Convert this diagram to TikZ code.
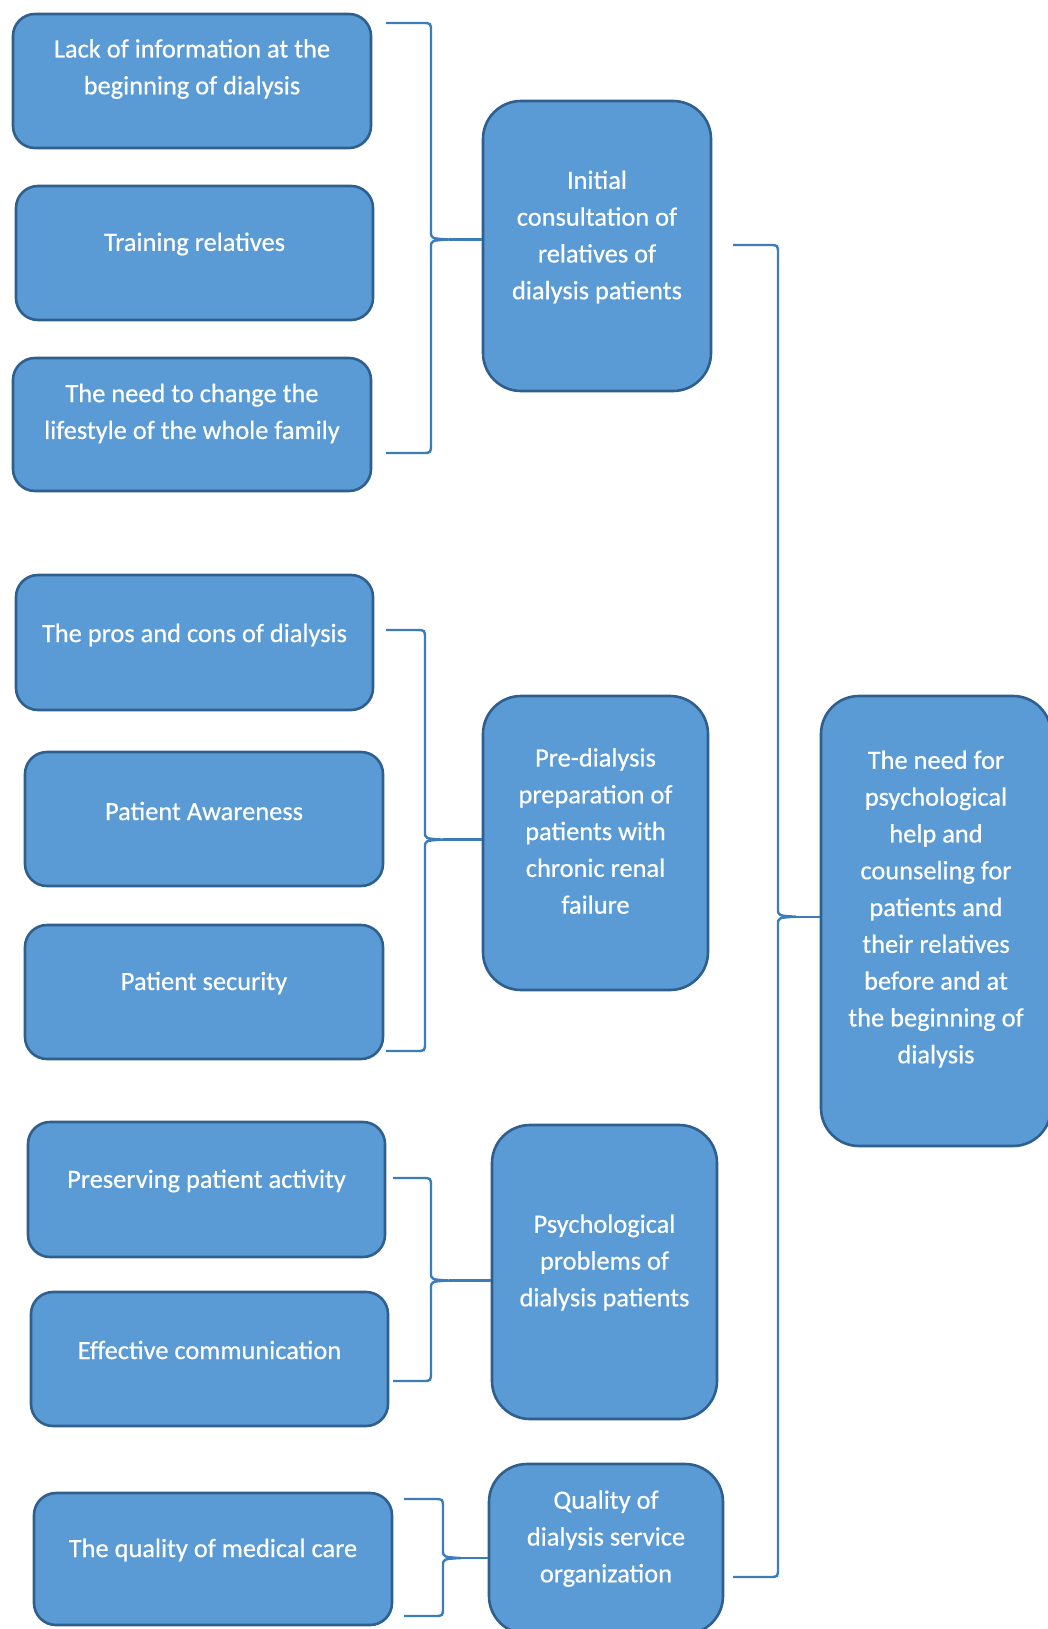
\documentclass[tikz,border=0pt]{standalone}
\usepackage{fontspec}
\setmainfont{Carlito}
\newfontfamily\boxfont{Carlito}[FakeBold=0.5]
\definecolor{fillb}{HTML}{5B9BD5}
\definecolor{edgeb}{HTML}{2E5F8E}
\definecolor{braceb}{HTML}{3B7DBB}
\newcommand\mybrace[5]{% xa, ytop, ybot, xv, ymid
  \draw[bracel] (#1,#2) -- (#4-9,#2) .. controls (#4,#2) .. (#4,#2+9)
    -- (#4,#5-8) .. controls (#4,#5-1) .. (#4+18,#5)
    .. controls (#4,#5+1) .. (#4,#5+8)
    -- (#4,#3-9) .. controls (#4,#3) .. (#4-9,#3) -- (#1,#3);}
\begin{document}
\begin{tikzpicture}[x=1pt,y=-1pt,
  box/.style={draw=edgeb, line width=2.6pt, fill=fillb, rounded corners=22pt, inner sep=0pt},
  tallbox/.style={box, rounded corners=38pt},
  txt/.style={text=white, align=center, inner sep=0pt, font=\boxfont\fontsize{26.4}{36.8}\selectfont},
  bracel/.style={draw=braceb, line width=2.4pt},
  link/.style={draw=braceb, line width=2.4pt}]
\useasboundingbox (0,0) rectangle (1047,1629);
% left boxes
\node[box, minimum width=358pt, minimum height=134pt] (b1) at (192,81) {};
\node[txt] (t1) at (192,69) {Lack of information at the\\beginning of dialysis};
\node[box, minimum width=357pt, minimum height=134pt] (b2) at (194.5,253) {};
\node[txt] (t2) at (194.5,244) {Training relatives};
\node[box, minimum width=358pt, minimum height=133pt] (b3) at (192,424.5) {};
\node[txt] (t3) at (192,413.5) {The need to change the\\lifestyle of the whole family};
\node[box, minimum width=357pt, minimum height=135pt] (b4) at (194.5,642.5) {};
\node[txt] (t4) at (194.5,635) {The pros and cons of dialysis};
\node[box, minimum width=358pt, minimum height=134pt] (b5) at (204,819) {};
\node[txt] (t5) at (204,811) {Patient Awareness};
\node[box, minimum width=358pt, minimum height=134pt] (b6) at (204,992) {};
\node[txt] (t6) at (204,983) {Patient security};
\node[box, minimum width=357pt, minimum height=135pt] (b7) at (206.5,1189.5) {};
\node[txt] (t7) at (206.5,1181) {Preserving patient activity};
\node[box, minimum width=357pt, minimum height=134pt] (b8) at (209.5,1359) {};
\node[txt] (t8) at (209.5,1350) {Effective communication};
\node[box, minimum width=358pt, minimum height=132pt] (b9) at (213,1559) {};
\node[txt] (t9) at (213,1550) {The quality of medical care};
% middle boxes
\node[tallbox, minimum width=228pt, minimum height=290pt] (A) at (597,246) {};
\node[txt] (tA) at (597,237) {Initial\\consultation of\\relatives of\\dialysis patients};
\node[tallbox, minimum width=225pt, minimum height=294pt] (B) at (595.5,843) {};
\node[txt] (tB) at (595.5,831) {Pre-dialysis\\preparation of\\patients with\\chronic renal\\failure};
\node[tallbox, minimum width=225pt, minimum height=294pt] (C) at (604.5,1272) {};
\node[txt] (tC) at (604.5,1262.5) {Psychological\\problems of\\dialysis patients};
\node[tallbox, minimum width=234pt, minimum height=170pt] (D) at (606,1549) {};
\node[txt] (tD) at (606,1538.6) {Quality of\\dialysis service\\organization};
% right box
\node[tallbox, minimum width=230pt, minimum height=450pt] (E) at (936,921) {};
\node[txt] (tE) at (936,909) {The need for\\psychological\\help and\\counseling for\\patients and\\their relatives\\before and at\\the beginning of\\dialysis};
% braces
\mybrace{386}{23}{453}{431}{239.5}
\coordinate (k1) at (449,239.5);
\draw[link] (k1) -- (k1 -| A.west);
\mybrace{386}{630}{1051}{425}{839.6}
\coordinate (k2) at (443,839.6);
\draw[link] (k2) -- (k2 -| B.west);
\mybrace{393}{1178}{1381}{431}{1280.5}
\coordinate (k3) at (449,1280.5);
\draw[link] (k3) -- (k3 -| C.west);
\mybrace{404}{1499}{1616}{443}{1558}
\coordinate (k4) at (461,1558);
\draw[link] (k4) -- (k4 -| D.west);
\mybrace{733}{245}{1577}{778}{916.7}
\coordinate (k5) at (796,916.7);
\draw[link] (k5) -- (k5 -| E.west);
\end{tikzpicture}
\end{document}
